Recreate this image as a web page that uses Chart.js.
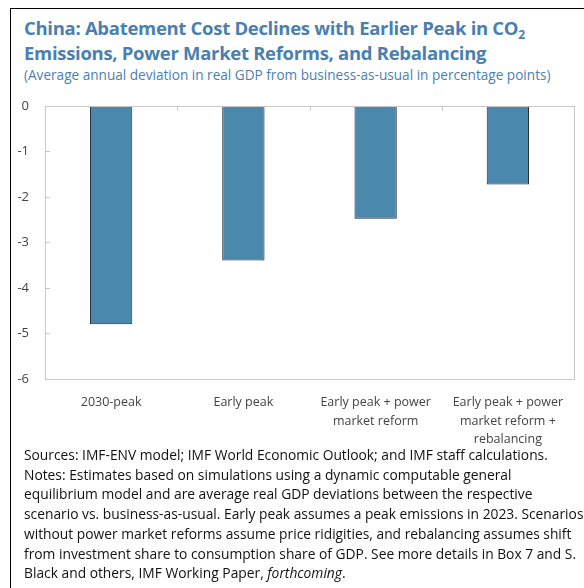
<!DOCTYPE html>
<html><head><meta charset="utf-8">
<script src="https://cdn.jsdelivr.net/npm/chart.js@4"></script>
<style>
html,body{margin:0;padding:0;background:#fff;width:584px;height:588px;overflow:hidden;}
#frame{position:absolute;left:10px;top:8px;width:600px;height:600px;border-left:1px solid #000;border-top:1px solid #000;}
#title{position:absolute;left:24px;top:15px;font-family:"Open Sans",sans-serif;font-weight:bold;font-size:18.5px;line-height:25px;color:#4a7fb0;white-space:nowrap;letter-spacing:-0.3px;}
#title sub{font-size:12px;vertical-align:-4px;line-height:0;}
#subtitle{position:absolute;left:24px;top:65px;font-family:"Open Sans",sans-serif;font-size:13.6px;color:#4a7fb0;white-space:nowrap;}
#notes{position:absolute;left:24px;top:445px;font-family:"Open Sans",sans-serif;font-size:13.8px;line-height:19.7px;color:#111;white-space:nowrap;}
#wrap{position:absolute;left:0;top:82px;width:584px;height:368px;}
canvas{display:block;}
</style></head>
<body>
<div id="frame"></div>
<div id="title">China: Abatement Cost Declines with Earlier Peak in CO<sub>2</sub><br>Emissions, Power Market Reforms, and Rebalancing</div>
<div id="subtitle">(Average annual deviation in real GDP from business-as-usual in percentage points)</div>
<div id="wrap"><canvas id="c" width="584" height="368"></canvas></div>
<div id="notes">Sources: IMF-ENV model; IMF World Economic Outlook; and IMF staff calculations.<br>Notes: Estimates based on simulations using a dynamic computable general<br>equilibrium model and are average real GDP deviations between the respective<br>scenario vs. business-as-usual. Early peak assumes a peak emissions in 2023. Scenarios<br>without power market reforms assume price ridigities, and rebalancing assumes shift<br>from investment share to consumption share of GDP. See more details in Box 7 and S.<br>Black and others, IMF Working Paper, <i>forthcoming</i>.</div>
<script>
const categories = [
  ["2030-peak"],
  ["Early peak"],
  ["Early peak + power", "market reform"],
  ["Early peak + power", "market reform +", "rebalancing"]
];
const gdpDeviation = [-4.8, -3.4, -2.48, -1.73];
const yTicks = [0, -1, -2, -3, -4, -5, -6];

const frameAndTicks = {
  id: 'frameAndTicks',
  afterDraw(chart) {
    const {ctx, chartArea: a, scales} = chart;
    ctx.save();
    ctx.strokeStyle = '#c8c8c8';
    ctx.lineWidth = 1;
    ctx.strokeRect(Math.round(a.left) + 0.5, Math.round(a.top) + 0.5, Math.round(a.right - a.left), Math.round(a.bottom - a.top));
    yTicks.forEach(v => {
      const y = Math.round(scales.y.getPixelForValue(v)) + 0.5;
      ctx.beginPath(); ctx.moveTo(a.left, y); ctx.lineTo(a.left + 5, y); ctx.stroke();
    });
    const n = categories.length;
    for (let i = 1; i < n; i++) {
      const x = Math.round((scales.x.getPixelForValue(i - 1) + scales.x.getPixelForValue(i)) / 2) + 0.5;
      ctx.beginPath(); ctx.moveTo(x, a.top); ctx.lineTo(x, a.top + 5); ctx.stroke();
    }
    ctx.restore();
  }
};

new Chart(document.getElementById('c'), {
  type: 'bar',
  data: {
    labels: categories,
    datasets: [{
      data: gdpDeviation,
      backgroundColor: '#4a89ab',
      borderColor: '#1e2a30',
      borderWidth: 1,
      borderSkipped: false,
      barPercentage: 0.32,
      categoryPercentage: 1.0
    }]
  },
  options: {
    responsive: false,
    animation: false,
    layout: {autoPadding: false, padding: {left: 0, right: 10, top: 16, bottom: 0}},
    plugins: {legend: {display: false}, tooltip: {enabled: false}},
    scales: {
      x: {
        grid: {display: false, drawTicks: false},
        border: {display: false},
        ticks: {color: '#444', font: {family: 'Open Sans', size: 12.5, lineHeight: 1.5}, padding: 14, maxRotation: 0, autoSkip: false},
        afterFit(s) { s.height = 71; }
      },
      y: {
        min: -6, max: 0,
        grid: {display: false, drawTicks: false},
        border: {display: false},
        afterBuildTicks(s) { s.ticks = yTicks.map(v => ({value: v})); },
        ticks: {color: '#444', font: {family: 'Open Sans', size: 13}, padding: 16},
        afterFit(s) { s.width = 45; }
      }
    }
  },
  plugins: [frameAndTicks]
});
</script>
</body></html>
